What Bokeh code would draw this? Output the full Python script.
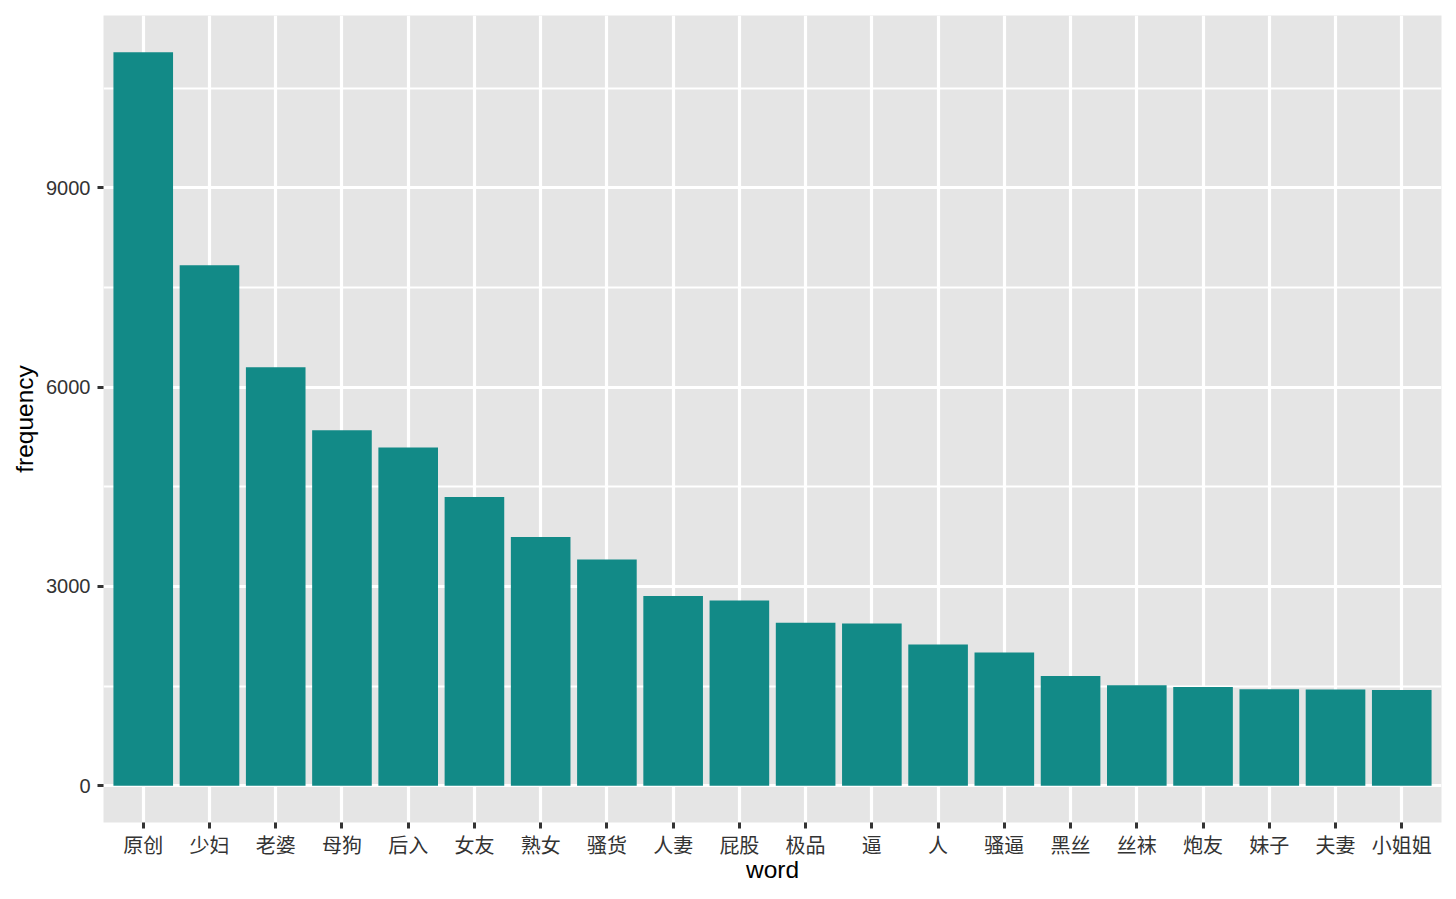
from bokeh.plotting import figure
from bokeh.models import ColumnDataSource, FixedTicker, Range1d
from bokeh.embed import file_html
from bokeh.resources import INLINE

words = ["原创", "少妇", "老婆", "母狗", "后入", "女友", "熟女", "骚货", "人妻", "屁股",
         "极品", "逼", "人", "骚逼", "黑丝", "丝袜", "炮友", "妹子", "夫妻", "小姐姐"]
frequency = [11040, 7833, 6300, 5350, 5090, 4345, 3745, 3405, 2858, 2790,
             2455, 2442, 2125, 2008, 1653, 1513, 1488, 1453, 1450, 1442]
y_major_ticks = [0, 3000, 6000, 9000]
y_minor_ticks = [1500, 4500, 7500, 10500]

positions = list(range(1, len(words) + 1))
source = ColumnDataSource(dict(x=positions, word=words, frequency=frequency))

ymax = max(frequency)
pad = 0.05 * ymax

p = figure(width=1448, height=899, output_backend="svg", toolbar_location=None,
           x_range=Range1d(0.4, len(words) + 0.6),
           y_range=Range1d(-pad, ymax + pad),
           min_border_left=103, min_border_right=7, min_border_top=15, min_border_bottom=77)

p.vbar(x="x", top="frequency", bottom=0, width=0.9, source=source,
       fill_color="#128A87", line_color=None)

p.background_fill_color = "#E5E5E5"
p.border_fill_color = "white"
p.outline_line_color = None

# axes
p.xaxis.ticker = FixedTicker(ticks=positions)
p.xaxis.major_label_overrides = {pos: w for pos, w in zip(positions, words)}
p.yaxis.ticker = FixedTicker(ticks=y_major_ticks, minor_ticks=y_minor_ticks)

for ax in (p.xaxis[0], p.yaxis[0]):
    ax.axis_line_color = None
    ax.major_tick_line_color = "#333333"
    ax.major_tick_line_width = 3
    ax.major_tick_out = 6
    ax.major_tick_in = 0
    ax.minor_tick_out = 0
    ax.minor_tick_in = 0
    ax.major_label_text_color = "#333333"
    ax.major_label_text_font_size = "20px"
    ax.axis_label_text_font_size = "24.5px"
    ax.axis_label_text_font_style = "normal"
    ax.axis_label_text_color = "black"
    ax.axis_label_text_font = "Liberation Sans"

p.xaxis.major_label_text_font = "Noto Sans CJK SC"
p.yaxis.major_label_text_font = "Liberation Sans"
p.xaxis.major_label_standoff = 1
p.yaxis.major_label_standoff = 7
p.xaxis.axis_label = "word"
p.yaxis.axis_label = "frequency"
p.xaxis.axis_label_standoff = -6
p.yaxis.axis_label_standoff = 5

# grid
p.xgrid.grid_line_color = "white"
p.xgrid.grid_line_width = 3.2
p.ygrid.grid_line_color = "white"
p.ygrid.grid_line_width = 3.2
p.ygrid.minor_grid_line_color = "white"
p.ygrid.minor_grid_line_width = 1.8

open("out.html", "w").write(file_html(p, INLINE))
